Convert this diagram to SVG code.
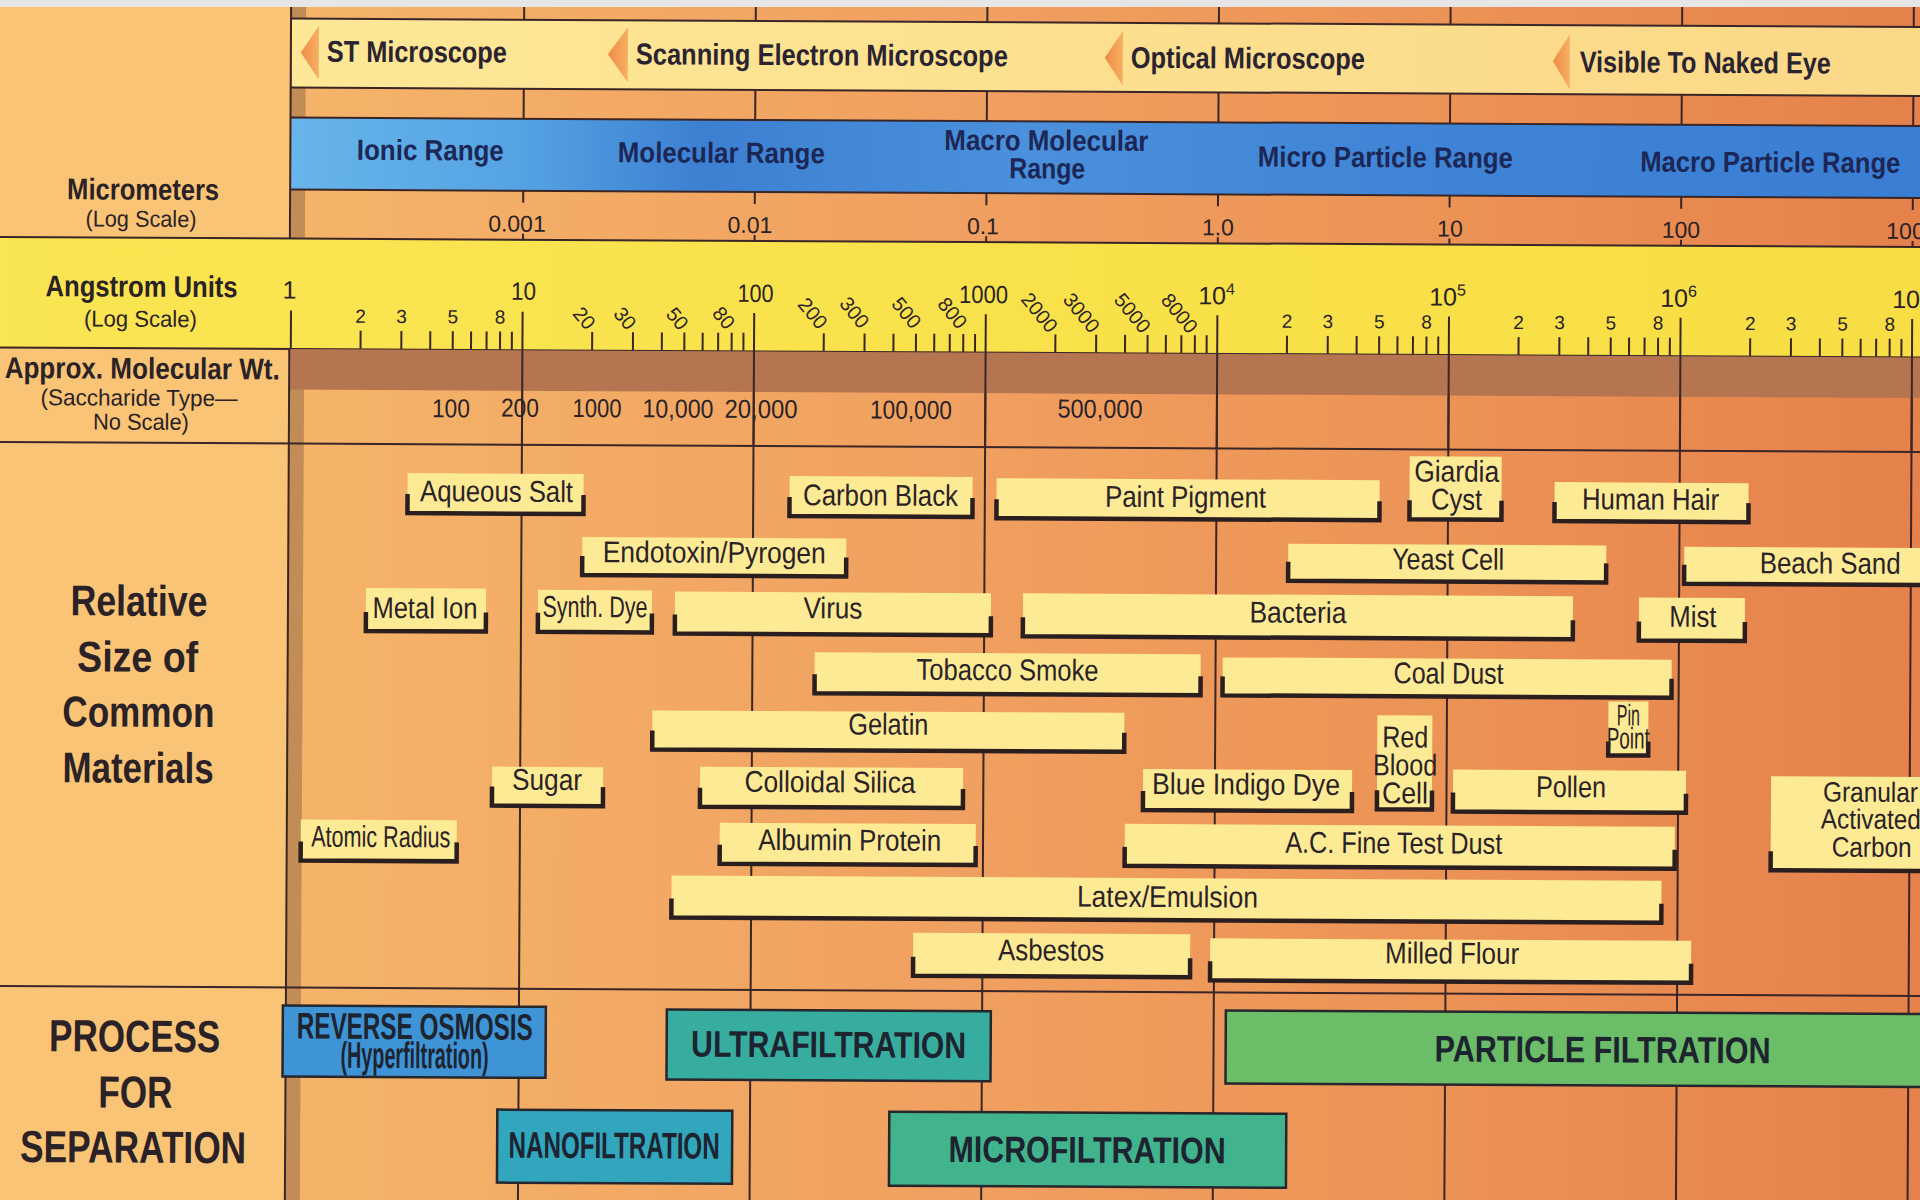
<svg xmlns="http://www.w3.org/2000/svg" width="1920" height="1200" viewBox="0 0 1920 1200">
<defs>
<linearGradient id="bg" x1="0" y1="0" x2="1920" y2="0" gradientUnits="userSpaceOnUse">
<stop offset="0.15" stop-color="#f5b46a"/><stop offset="0.5" stop-color="#f0a060"/><stop offset="0.75" stop-color="#ec9356"/><stop offset="1" stop-color="#e5814b"/>
</linearGradient>
<linearGradient id="blue" x1="289" y1="0" x2="1920" y2="0" gradientUnits="userSpaceOnUse">
<stop offset="0" stop-color="#67b5ea"/><stop offset="0.14" stop-color="#55a3e3"/><stop offset="0.25" stop-color="#3d80d2"/><stop offset="0.45" stop-color="#4a90dc"/><stop offset="0.7" stop-color="#3f84d6"/><stop offset="1" stop-color="#3a7ed4"/>
</linearGradient>
<linearGradient id="mic" x1="289" y1="0" x2="1920" y2="0" gradientUnits="userSpaceOnUse">
<stop offset="0" stop-color="#fde897"/><stop offset="1" stop-color="#fbd888"/>
</linearGradient>
<linearGradient id="ang" x1="0" y1="0" x2="1920" y2="0" gradientUnits="userSpaceOnUse">
<stop offset="0" stop-color="#fae552"/><stop offset="1" stop-color="#f8de44"/>
</linearGradient>
<linearGradient id="tri" x1="0" y1="0" x2="1" y2="0">
<stop offset="0" stop-color="#f08a45"/><stop offset="1" stop-color="#f6b062"/>
</linearGradient>
<style>
.t{font-family:"Liberation Sans",Arial,sans-serif;fill:#2a2226}
.m{font-size:30px;text-anchor:middle}
.bx{fill:#fdea94}
.br{fill:none;stroke:#2a1e1e;stroke-width:4.5}
.ln{stroke:#3a2626;stroke-width:2;fill:none}
.mic{font-size:30px;font-weight:bold;fill:#2b2430}
.blu{font-size:29px;font-weight:bold;fill:#1c2756;text-anchor:middle}
.num{font-size:23px;text-anchor:middle}
.dl{font-size:25px;text-anchor:middle}
.sm{font-size:19px;text-anchor:middle}
.sr{font-size:20px;text-anchor:middle}
.mw{font-size:26px;text-anchor:middle}
.lh{font-size:30px;font-weight:bold;text-anchor:middle}
.lp{font-size:23px;text-anchor:middle}
.big{font-size:43px;font-weight:bold;text-anchor:middle}
.lb{font-size:45px;font-weight:bold;text-anchor:middle}
.pr{font-size:37px;font-weight:bold;text-anchor:middle;fill:#1d2430}
.tri{fill:url(#tri)}
.pb{stroke:#26262c;stroke-width:2.5}
</style>
</defs>
<rect x="0" y="0" width="1920" height="1200" fill="#f3ad66"/>
<g id="chart" transform="rotate(0.3 960 600)">
<rect x="-40" y="-40" width="2000" height="1280" fill="url(#bg)"/>
<rect x="-40" y="-40" width="328" height="1280" fill="#f9c476"/>
<rect x="288" y="-40" width="15" height="1280" fill="#c18c55"/>

<g id="grid">
<path class="ln" d="M521.1 -40V22M752.7 -40V22M984.3 -40V22M1215.9 -40V22M1447.5 -40V22M1679.1 -40V22M1910.7 -40V22M521.1 91V121M752.7 91V121M984.3 91V121M1215.9 91V121M1447.5 91V121M1679.1 91V121M1910.7 91V121"/>
<path class="ln" d="M521.1 352V1240M752.7 352V1240M984.3 352V1240M1215.9 352V1240M1447.5 352V1240M1679.1 352V1240M1910.7 352V1240"/>
</g>

<g id="microscope-band">
<rect x="289" y="22" width="1680" height="69" fill="url(#mic)"/>
<path class="ln" d="M288 22H1970M288 91H1970"/>
<polygon class="tri" points="316,29 298,56 316,83"/>
<polygon class="tri" points="625,29 605,56 625,84"/>
<polygon class="tri" points="1120,30 1102,57 1120,85"/>
<polygon class="tri" points="1567,31 1550,58 1567,86"/>
<text class="t mic" x="324" y="65" textLength="180" lengthAdjust="spacingAndGlyphs">ST Microscope</text>
<text class="t mic" x="633" y="66" textLength="372" lengthAdjust="spacingAndGlyphs">Scanning Electron Microscope</text>
<text class="t mic" x="1128" y="67" textLength="234" lengthAdjust="spacingAndGlyphs">Optical Microscope</text>
<text class="t mic" x="1577" y="69" textLength="251" lengthAdjust="spacingAndGlyphs">Visible To Naked Eye</text>
</g>

<g id="range-band">
<rect x="289" y="121" width="1680" height="72" fill="url(#blue)"/>
<path class="ln" d="M288 121H1970M288 193H1970"/>
<text class="t blu" x="428" y="163" textLength="147" lengthAdjust="spacingAndGlyphs">Ionic Range</text>
<text class="t blu" x="719" y="164" textLength="207" lengthAdjust="spacingAndGlyphs">Molecular Range</text>
<text class="t blu" x="1044" y="150" textLength="204" lengthAdjust="spacingAndGlyphs">Macro Molecular</text>
<text class="t blu" x="1045" y="178" textLength="76" lengthAdjust="spacingAndGlyphs">Range</text>
<text class="t blu" x="1383" y="165" textLength="255" lengthAdjust="spacingAndGlyphs">Micro Particle Range</text>
<text class="t blu" x="1768" y="168" textLength="260" lengthAdjust="spacingAndGlyphs">Macro Particle Range</text>
</g>

<g id="micrometer-scale">
<path class="ln" d="M521.1 193V205M752.7 193V205M984.3 193V205M1215.9 193V205M1447.5 193V205M1679.1 193V205M1910.7 193V205M521.1 236V242M752.7 236V242M984.3 236V242M1215.9 236V242M1447.5 236V242M1679.1 236V242M1910.7 236V242"/>
<text class="t num" x="515" y="234">0.001</text>
<text class="t num" x="748" y="234">0.01</text>
<text class="t num" x="981" y="234">0.1</text>
<text class="t num" x="1216" y="234">1.0</text>
<text class="t num" x="1448" y="234">10</text>
<text class="t num" x="1679" y="234">100</text>
<text class="t num" x="1910" y="234">1000</text>
</g>

<g id="angstrom-band">
<rect x="-40" y="242" width="2010" height="110.5" fill="url(#ang)"/>
<path class="ln" d="M-40 242H1970M-40 352.5H1970"/>
<path class="ln" d="M289.5 314V352M521.1 314V352M752.7 314V352M984.3 314V352M1215.9 314V352M1447.5 314V352M1679.1 314V352M1910.7 314V352"/>
<path class="ln" d="M359.2 334V352M400 334V352M428.9 334V352M451.4 334V352M469.7 334V352M485.2 334V352M498.7 334V352M510.5 334V352
M590.8 334V352M631.6 334V352M660.5 334V352M683 334V352M701.3 334V352M716.8 334V352M730.3 334V352M742.1 334V352
M822.4 334V352M863.2 334V352M892.1 334V352M914.6 334V352M932.9 334V352M948.4 334V352M961.9 334V352M973.7 334V352
M1054 334V352M1094.8 334V352M1123.7 334V352M1146.2 334V352M1164.5 334V352M1180 334V352M1193.5 334V352M1205.3 334V352
M1285.6 334V352M1326.4 334V352M1355.3 334V352M1377.8 334V352M1396.1 334V352M1411.6 334V352M1425.1 334V352M1436.9 334V352
M1517.2 334V352M1558 334V352M1586.9 334V352M1609.4 334V352M1627.7 334V352M1643.2 334V352M1656.7 334V352M1668.5 334V352
M1748.8 334V352M1789.6 334V352M1818.5 334V352M1841 334V352M1859.3 334V352M1874.8 334V352M1888.3 334V352M1900.1 334V352"/>
<text class="t dl" x="288" y="302">1</text>
<text class="t dl" x="522" y="302" textLength="25" lengthAdjust="spacingAndGlyphs">10</text>
<text class="t dl" x="754" y="303" textLength="36" lengthAdjust="spacingAndGlyphs">100</text>
<text class="t dl" x="982" y="303" textLength="49" lengthAdjust="spacingAndGlyphs">1000</text>
<text class="t dl" x="1215" y="303">10<tspan font-size="16" dy="-10">4</tspan></text>
<text class="t dl" x="1446" y="303">10<tspan font-size="16" dy="-10">5</tspan></text>
<text class="t dl" x="1677" y="303">10<tspan font-size="16" dy="-10">6</tspan></text>
<text class="t dl" x="1909" y="303">10<tspan font-size="16" dy="-10">7</tspan></text>
<text class="t sm" x="359.2" y="326">2</text><text class="t sm" x="400" y="326">3</text><text class="t sm" x="451.4" y="326">5</text><text class="t sm" x="498.7" y="326">8</text>
<text class="t sm" x="1285.6" y="326">2</text><text class="t sm" x="1326.4" y="326">3</text><text class="t sm" x="1377.8" y="326">5</text><text class="t sm" x="1425.1" y="326">8</text>
<text class="t sm" x="1517.2" y="326">2</text><text class="t sm" x="1558" y="326">3</text><text class="t sm" x="1609.4" y="326">5</text><text class="t sm" x="1656.7" y="326">8</text>
<text class="t sm" x="1748.8" y="326">2</text><text class="t sm" x="1789.6" y="326">3</text><text class="t sm" x="1841" y="326">5</text><text class="t sm" x="1888.3" y="326">8</text>
<text class="t sr" dy="7" transform="translate(582.8 320) rotate(50)">20</text>
<text class="t sr" dy="7" transform="translate(623.6 320) rotate(50)">30</text>
<text class="t sr" dy="7" transform="translate(676 320) rotate(50)">50</text>
<text class="t sr" dy="7" transform="translate(722.3 319) rotate(50)">80</text>
<text class="t sr" dy="7" transform="translate(811.4 314) rotate(50)">200</text>
<text class="t sr" dy="7" transform="translate(853 313) rotate(50)">300</text>
<text class="t sr" dy="7" transform="translate(905 313) rotate(50)">500</text>
<text class="t sr" dy="7" transform="translate(951 313) rotate(50)">800</text>
<text class="t sr" dy="7" transform="translate(1038 312) rotate(50)">2000</text>
<text class="t sr" dy="7" transform="translate(1080 312) rotate(50)">3000</text>
<text class="t sr" dy="7" transform="translate(1131 312) rotate(50)">5000</text>
<text class="t sr" dy="7" transform="translate(1178 312) rotate(50)">8000</text>
</g>

<g id="mw-row">
<rect x="289" y="352.5" width="1680" height="40.5" fill="#b47550"/>
<path class="ln" d="M521.1 352V447M752.7 352V447M984.3 352V447M1215.9 352V447M1447.5 352V447M1679.1 352V447M1910.7 352V447"/>
<path class="ln" d="M-40 447H1970M-40 991H1970"/>
<text class="t mw" x="450" y="420" textLength="38" lengthAdjust="spacingAndGlyphs">100</text>
<text class="t mw" x="519" y="419" textLength="38" lengthAdjust="spacingAndGlyphs">200</text>
<text class="t mw" x="596" y="419" textLength="49" lengthAdjust="spacingAndGlyphs">1000</text>
<text class="t mw" x="677" y="419" textLength="71" lengthAdjust="spacingAndGlyphs">10,000</text>
<text class="t mw" x="760" y="419" textLength="73" lengthAdjust="spacingAndGlyphs">20,000</text>
<text class="t mw" x="910" y="419" textLength="82" lengthAdjust="spacingAndGlyphs">100,000</text>
<text class="t mw" x="1099" y="417" textLength="85" lengthAdjust="spacingAndGlyphs">500,000</text>
</g>

<path class="ln" d="M288 -40V242M288 352V1240"/>

<g id="left-labels">
<text class="t lh" x="141" y="204" textLength="152" lengthAdjust="spacingAndGlyphs">Micrometers</text>
<text class="t lp" x="139" y="231" textLength="111" lengthAdjust="spacingAndGlyphs">(Log Scale)</text>
<text class="t lh" x="140" y="301" textLength="192" lengthAdjust="spacingAndGlyphs">Angstrom Units</text>
<text class="t lp" x="139" y="331" textLength="113" lengthAdjust="spacingAndGlyphs">(Log Scale)</text>
<text class="t lh" x="141" y="383" textLength="275" lengthAdjust="spacingAndGlyphs">Approx. Molecular Wt.</text>
<text class="t lp" x="138" y="410" textLength="197" lengthAdjust="spacingAndGlyphs">(Saccharide Type—</text>
<text class="t lp" x="140" y="434" textLength="96" lengthAdjust="spacingAndGlyphs">No Scale)</text>
<text class="t big" x="139" y="620" textLength="137" lengthAdjust="spacingAndGlyphs">Relative</text>
<text class="t big" x="138" y="676" textLength="121" lengthAdjust="spacingAndGlyphs">Size of</text>
<text class="t big" x="139" y="731" textLength="152" lengthAdjust="spacingAndGlyphs">Common</text>
<text class="t big" x="139" y="787" textLength="151" lengthAdjust="spacingAndGlyphs">Materials</text>
<text class="t lb" x="137" y="1056" textLength="171" lengthAdjust="spacingAndGlyphs">PROCESS</text>
<text class="t lb" x="138" y="1112" textLength="74" lengthAdjust="spacingAndGlyphs">FOR</text>
<text class="t lb" x="136" y="1167" textLength="226" lengthAdjust="spacingAndGlyphs">SEPARATION</text>
</g>

<g id="materials">
<g id="aqueous-salt"><rect class="bx" x="407" y="476" width="176" height="39"/><path class="br" d="M407 497V516H583V497"/><text class="t m" x="496" y="504" textLength="153" lengthAdjust="spacingAndGlyphs">Aqueous Salt</text></g>
<g id="carbon-black"><rect class="bx" x="789" y="477" width="183" height="39"/><path class="br" d="M789 498V517H972V498"/><text class="t m" x="880" y="506" textLength="155" lengthAdjust="spacingAndGlyphs">Carbon Black</text></g>
<g id="paint-pigment"><rect class="bx" x="996" y="478" width="383" height="39"/><path class="br" d="M996 499V518H1379V499"/><text class="t m" x="1185" y="506" textLength="161" lengthAdjust="spacingAndGlyphs">Paint Pigment</text></g>
<g id="giardia-cyst"><rect class="bx" x="1409" y="454" width="92" height="62"/><path class="br" d="M1409 498V517H1501V498"/><text class="t m" x="1456" y="479" font-size="28" textLength="85" lengthAdjust="spacingAndGlyphs">Giardia</text><text class="t m" x="1456" y="507" font-size="28" textLength="51" lengthAdjust="spacingAndGlyphs">Cyst</text></g>
<g id="human-hair"><rect class="bx" x="1554" y="479" width="194" height="38"/><path class="br" d="M1554 499V518H1748V499"/><text class="t m" x="1650" y="506" textLength="137" lengthAdjust="spacingAndGlyphs">Human Hair</text></g>
<g id="endotoxin"><rect class="bx" x="582" y="539" width="264" height="37"/><path class="br" d="M582 558V577H846V558"/><text class="t m" x="714" y="564" textLength="223" lengthAdjust="spacingAndGlyphs">Endotoxin/Pyrogen</text></g>
<g id="yeast-cell"><rect class="bx" x="1288" y="542" width="318" height="36"/><path class="br" d="M1288 560V579H1606V560"/><text class="t m" x="1448" y="567" textLength="112" lengthAdjust="spacingAndGlyphs">Yeast Cell</text></g>
<g id="beach-sand"><rect class="bx" x="1684" y="543" width="300" height="36"/><path class="br" d="M1684 561V580H1990"/><text class="t m" x="1830" y="569" textLength="141" lengthAdjust="spacingAndGlyphs">Beach Sand</text></g>
<g id="metal-ion"><rect class="bx" x="366" y="591" width="120" height="42"/><path class="br" d="M366 615V634H486V615"/><text class="t m" x="425" y="621" textLength="105" lengthAdjust="spacingAndGlyphs">Metal Ion</text></g>
<g id="synth-dye"><rect class="bx" x="538" y="592" width="114" height="41"/><path class="br" d="M538 615V634H652V615"/><text class="t m" x="595" y="619" textLength="105" lengthAdjust="spacingAndGlyphs">Synth. Dye</text></g>
<g id="virus"><rect class="bx" x="675" y="593" width="316" height="41"/><path class="br" d="M675 616V635H991V616"/><text class="t m" x="833" y="619" textLength="59" lengthAdjust="spacingAndGlyphs">Virus</text></g>
<g id="bacteria"><rect class="bx" x="1023" y="593" width="550" height="42"/><path class="br" d="M1023 617V636H1573V617"/><text class="t m" x="1298" y="621" textLength="97" lengthAdjust="spacingAndGlyphs">Bacteria</text></g>
<g id="mist"><rect class="bx" x="1639" y="594" width="106" height="42"/><path class="br" d="M1639 618V637H1745V618"/><text class="t m" x="1693" y="623" textLength="47" lengthAdjust="spacingAndGlyphs">Mist</text></g>
<g id="tobacco-smoke"><rect class="bx" x="815" y="653" width="386" height="40"/><path class="br" d="M815 675V694H1201V675"/><text class="t m" x="1008" y="680" textLength="182" lengthAdjust="spacingAndGlyphs">Tobacco Smoke</text></g>
<g id="coal-dust"><rect class="bx" x="1223" y="656" width="449" height="37"/><path class="br" d="M1223 675V694H1672V675"/><text class="t m" x="1449" y="681" textLength="110" lengthAdjust="spacingAndGlyphs">Coal Dust</text></g>
<g id="gelatin"><rect class="bx" x="653" y="712" width="472" height="38"/><path class="br" d="M653 732V751H1125V732"/><text class="t m" x="889" y="735" textLength="80" lengthAdjust="spacingAndGlyphs">Gelatin</text></g>
<g id="pin-point"><rect class="bx" x="1609" y="698" width="40" height="53"/><path class="br" d="M1609 738V752H1649V738"/><text class="t m" x="1629" y="722" font-size="21" textLength="23" lengthAdjust="spacingAndGlyphs">Pin</text><text class="t m" x="1629" y="745" font-size="21" textLength="43" lengthAdjust="spacingAndGlyphs">Point</text></g>
<g id="colloidal-silica"><rect class="bx" x="701" y="768" width="263" height="39"/><path class="br" d="M701 789V808H964V789"/><text class="t m" x="831" y="793" textLength="171" lengthAdjust="spacingAndGlyphs">Colloidal Silica</text></g>
<g id="blue-indigo-dye"><rect class="bx" x="1144" y="768" width="209" height="40"/><path class="br" d="M1144 790V809H1353V790"/><text class="t m" x="1247" y="793" textLength="188" lengthAdjust="spacingAndGlyphs">Blue Indigo Dye</text></g>
<g id="red-blood-cell"><rect class="bx" x="1378" y="713" width="55" height="93"/><path class="br" d="M1378 788V807H1433V788"/><text class="t m" x="1406" y="745" font-size="28" textLength="46" lengthAdjust="spacingAndGlyphs">Red</text><text class="t m" x="1406" y="773" font-size="28" textLength="64" lengthAdjust="spacingAndGlyphs">Blood</text><text class="t m" x="1406" y="801" font-size="28" textLength="46" lengthAdjust="spacingAndGlyphs">Cell</text></g>
<g id="pollen"><rect class="bx" x="1454" y="767" width="233" height="41"/><path class="br" d="M1454 790V809H1687V790"/><text class="t m" x="1572" y="794" textLength="70" lengthAdjust="spacingAndGlyphs">Pollen</text></g>
<g id="sugar"><rect class="bx" x="493" y="769" width="111" height="38"/><path class="br" d="M493 789V808H604V789"/><text class="t m" x="548" y="792" textLength="70" lengthAdjust="spacingAndGlyphs">Sugar</text></g>
<g id="atomic-radius"><rect class="bx" x="302" y="823" width="156" height="40"/><path class="br" d="M302 845V864H458V845"/><text class="t m" x="382" y="850" textLength="139" lengthAdjust="spacingAndGlyphs">Atomic Radius</text></g>
<g id="albumin-protein"><rect class="bx" x="721" y="824" width="256" height="40"/><path class="br" d="M721 846V865H977V846"/><text class="t m" x="851" y="851" textLength="183" lengthAdjust="spacingAndGlyphs">Albumin Protein</text></g>
<g id="ac-fine-test-dust"><rect class="bx" x="1126" y="823" width="550" height="41"/><path class="br" d="M1126 846V865H1676V846"/><text class="t m" x="1395" y="851" textLength="217" lengthAdjust="spacingAndGlyphs">A.C. Fine Test Dust</text></g>
<g id="granular-activated-carbon"><rect class="bx" x="1772" y="772" width="220" height="93"/><path class="br" d="M1772 847V866H1990"/><text class="t" font-size="28" x="1824" y="797" textLength="95" lengthAdjust="spacingAndGlyphs">Granular</text><text class="t" font-size="28" x="1822" y="824" textLength="100" lengthAdjust="spacingAndGlyphs">Activated</text><text class="t" font-size="28" x="1833" y="852" textLength="80" lengthAdjust="spacingAndGlyphs">Carbon</text></g>
<g id="latex-emulsion"><rect class="bx" x="673" y="877" width="990" height="41"/><path class="br" d="M673 900V919H1663V900"/><text class="t m" x="1169" y="906" textLength="181" lengthAdjust="spacingAndGlyphs">Latex/Emulsion</text></g>
<g id="asbestos"><rect class="bx" x="915" y="933" width="277" height="42"/><path class="br" d="M915 957V976H1192V957"/><text class="t m" x="1053" y="960" textLength="106" lengthAdjust="spacingAndGlyphs">Asbestos</text></g>
<g id="milled-flour"><rect class="bx" x="1212" y="937" width="481" height="41"/><path class="br" d="M1212 960V979H1693V960"/><text class="t m" x="1454" y="961" textLength="134" lengthAdjust="spacingAndGlyphs">Milled Flour</text></g>
</g>

<g id="processes">
<g id="reverse-osmosis"><rect class="pb" x="285" y="1009" width="263" height="71" fill="#3f94d6"/><text class="t pr" x="417" y="1042" font-size="33" textLength="236" lengthAdjust="spacingAndGlyphs">REVERSE OSMOSIS</text><text class="t pr" x="417" y="1071" font-size="20" textLength="148" lengthAdjust="spacingAndGlyphs">(Hyperfiltration)</text></g>
<g id="ultrafiltration"><rect class="pb" x="669" y="1011" width="324" height="70" fill="#37ad9f"/><text class="t pr" x="831" y="1058" textLength="275" lengthAdjust="spacingAndGlyphs">ULTRAFILTRATION</text></g>
<g id="particle-filtration"><rect class="pb" x="1228" y="1009" width="760" height="73" fill="#6bbd67"/><text class="t pr" x="1605" y="1059" textLength="336" lengthAdjust="spacingAndGlyphs">PARTICLE FILTRATION</text></g>
<g id="nanofiltration"><rect class="pb" x="500" y="1112" width="235" height="73" fill="#31a6bd"/><text class="t pr" x="617" y="1160" textLength="211" lengthAdjust="spacingAndGlyphs">NANOFILTRATION</text></g>
<g id="microfiltration"><rect class="pb" x="892" y="1112" width="397" height="74" fill="#41b38d"/><text class="t pr" x="1090" y="1162" textLength="277" lengthAdjust="spacingAndGlyphs">MICROFILTRATION</text></g>
</g>
</g>
<rect x="0" y="0" width="1920" height="7" fill="#e6e6e6"/>
</svg>
